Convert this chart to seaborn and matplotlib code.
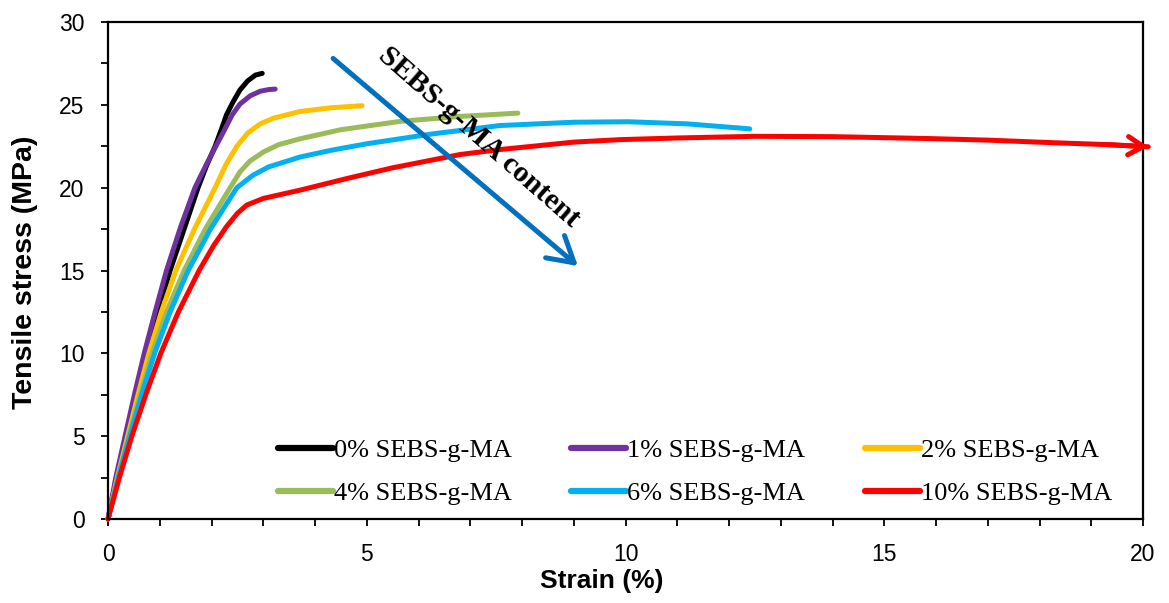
import numpy as np
import pandas as pd
import matplotlib
matplotlib.use("Agg")
import matplotlib.pyplot as plt
import seaborn as sns

# strain (%) / stress (MPa)
strain_0 = [0, 0.17, 0.37, 0.56, 0.76, 0.97, 1.2, 1.47, 1.74, 1.9, 2.07, 2.2, 2.29, 2.42, 2.55, 2.7, 2.85, 2.98]
stress_0 = [0, 2.5, 5.0, 7.5, 10.0, 12.5, 15.0, 17.5, 20.0, 21.3, 22.5, 23.6, 24.4, 25.2, 25.9, 26.45, 26.8, 26.9]

strain_1 = [0, 0.15, 0.33, 0.51, 0.70, 0.91, 1.13, 1.4, 1.68, 1.9, 2.1, 2.22, 2.4, 2.55, 2.75, 2.94, 3.1, 3.23]
stress_1 = [0, 2.5, 5.0, 7.5, 10.0, 12.5, 15.0, 17.6, 20.0, 21.4, 22.6, 23.3, 24.4, 25.05, 25.55, 25.82, 25.92, 25.95]

strain_2 = [0, 0.18, 0.38, 0.58, 0.79, 1.03, 1.31, 1.67, 2.07, 2.28, 2.49, 2.7, 2.94, 3.2, 3.71, 4.3, 4.91]
stress_2 = [0, 2.5, 5.0, 7.5, 10.0, 12.5, 15.0, 17.5, 20.0, 21.4, 22.5, 23.3, 23.85, 24.2, 24.6, 24.82, 24.95]

strain_4 = [0, 0.19, 0.40, 0.62, 0.85, 1.13, 1.47, 1.88, 2.36, 2.55, 2.74, 3.0, 3.3, 3.71, 4.5, 5.64, 6.8, 7.92]
stress_4 = [0, 2.5, 5.0, 7.5, 10.0, 12.5, 15.0, 17.5, 20.0, 20.95, 21.6, 22.15, 22.6, 22.95, 23.5, 24.0, 24.3, 24.5]

strain_6 = [0, 0.20, 0.42, 0.65, 0.90, 1.20, 1.55, 1.98, 2.49, 2.8, 3.1, 3.71, 4.3, 5.0, 6.28, 7.57, 9.0, 10.05, 11.2, 12.4]
stress_6 = [0, 2.5, 5.0, 7.5, 10.0, 12.5, 15.0, 17.5, 20.0, 20.75, 21.25, 21.85, 22.25, 22.65, 23.25, 23.75, 23.95, 23.98, 23.85, 23.55]

strain_10 = [0, 0.22, 0.46, 0.73, 1.02, 1.36, 1.76, 2.04, 2.29, 2.5, 2.68, 3.0, 3.71, 4.68, 5.5, 6.8, 7.57, 9.0, 9.9,
             11.0, 12.5, 14.0, 15.8, 17.0, 18.3, 19.3, 20.1]
stress_10 = [0, 2.5, 5.0, 7.5, 10.0, 12.5, 15.0, 16.5, 17.65, 18.45, 18.95, 19.35, 19.85, 20.6, 21.2, 22.0, 22.3, 22.75, 22.9,
             23.0, 23.1, 23.08, 22.97, 22.87, 22.71, 22.6, 22.47]

labels = ["0% SEBS-g-MA", "1% SEBS-g-MA", "2% SEBS-g-MA",
          "4% SEBS-g-MA", "6% SEBS-g-MA", "10% SEBS-g-MA"]
colors = ["#000000", "#7030A0", "#FFC000", "#9BBB59", "#00B0F0", "#FF0000"]

series = [(strain_0, stress_0), (strain_1, stress_1), (strain_2, stress_2),
          (strain_4, stress_4), (strain_6, stress_6), (strain_10, stress_10)]

sns.set_theme(style="white")
plt.rcParams["font.family"] = ["Liberation Sans", "DejaVu Sans"]
for key in ["text.color", "axes.labelcolor", "xtick.color", "ytick.color", "axes.edgecolor"]:
    plt.rcParams[key] = "black"

fig = plt.figure(figsize=(11.69, 6.03), dpi=100)
ax = fig.add_axes([0.0924, 0.1393, 0.8854, 0.8242])

for (xs, ys), lab, col in zip(series, labels, colors):
    df = pd.DataFrame({"strain": xs, "stress": ys})
    sns.lineplot(data=df, x="strain", y="stress", ax=ax, color=col, lw=3.6,
                 estimator=None, sort=False, label=lab, solid_capstyle="round",
                 solid_joinstyle="round", clip_on=False)

# arrowhead at the end of the 10% curve
ax.annotate("", xy=(strain_10[-1], stress_10[-1]), xytext=(strain_10[-2], stress_10[-2]),
            annotation_clip=False,
            arrowprops=dict(arrowstyle="->,head_length=0.5,head_width=0.3", color="#FF0000",
                            lw=3.6, mutation_scale=22, shrinkA=0, shrinkB=0))

# trend arrow
ax.annotate("", xy=(9.08, 15.27), xytext=(4.35, 27.8),
            arrowprops=dict(arrowstyle="->,head_length=0.6,head_width=0.35", color="#0070C0",
                            lw=3.6, mutation_scale=30, shrinkA=0, shrinkB=0))
ax.text(7.16, 23.08, "SEBS-g-MA content", rotation=-41.3, rotation_mode="anchor",
        ha="center", va="center", fontsize=21.5, fontweight="bold",
        family="Liberation Serif", color="black")

ax.set_xlim(0, 20)
ax.set_ylim(0, 30)
ax.set_xticks([0, 5, 10, 15, 20])
ax.set_yticks([0, 5, 10, 15, 20, 25, 30])
ax.set_xticks(np.arange(0, 21, 1), minor=True)
ax.set_yticks(np.arange(0, 31, 2.5), minor=True)
ax.tick_params(which="both", direction="out", length=5, width=1.3, color="black",
               bottom=True, left=True, labelsize=16.5, pad=12)
for sp in ax.spines.values():
    sp.set_linewidth(1.6)
    sp.set_color("black")

ax.set_xlabel("Strain (%)", fontsize=19, fontweight="bold")
ax.set_ylabel("Tensile stress (MPa)", fontsize=20.5, fontweight="bold")
ax.xaxis.set_label_coords(0.477, -0.101)
ax.yaxis.set_label_coords(-0.0676, 0.497)

h, l = ax.get_legend_handles_labels()
order = [0, 3, 1, 4, 2, 5]
leg = ax.legend([h[i] for i in order], [l[i] for i in order], ncol=3, frameon=False,
                loc="lower left", bbox_to_anchor=(0.141, -0.02), handlelength=2.08,
                handletextpad=0.05, columnspacing=2.25, labelspacing=0.74,
                prop={"family": "Liberation Serif", "size": 19})
for line in leg.get_lines():
    line.set_linewidth(4.5)

fig.savefig("out.png", dpi=100)
